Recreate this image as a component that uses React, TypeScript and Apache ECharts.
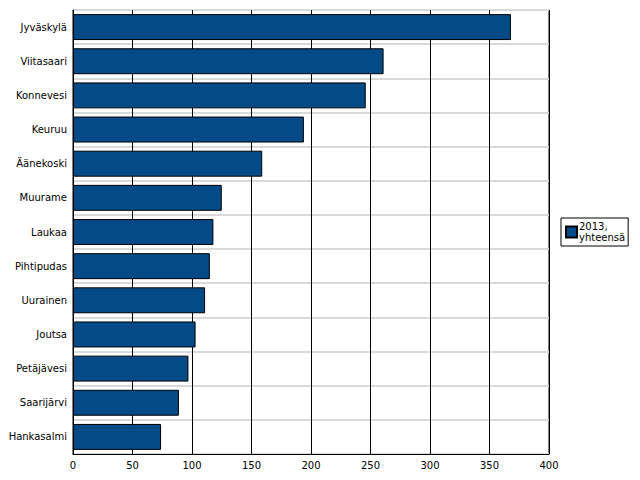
import React, { useEffect, useRef } from "react";
import * as echarts from "echarts";

const categories = [
  "Jyväskylä",
  "Viitasaari",
  "Konnevesi",
  "Keuruu",
  "Äänekoski",
  "Muurame",
  "Laukaa",
  "Pihtipudas",
  "Uurainen",
  "Joutsa",
  "Petäjävesi",
  "Saarijärvi",
  "Hankasalmi",
];
const values = [368, 261, 246, 194, 159, 125, 118, 115, 111, 103, 97, 89, 74];
const seriesName = "2013,\nyhteensä";

export default function App() {
  const ref = useRef<HTMLDivElement>(null);
  useEffect(() => {
    if (!ref.current) return;
    const chart = echarts.init(ref.current, null, { renderer: "svg" });
    const font = "DejaVu Sans";
    chart.setOption({
      animation: false,
      backgroundColor: "#fff",
      textStyle: { fontFamily: font },
      grid: {
        left: 73,
        top: 10,
        width: 476,
        height: 444,
        containLabel: false,
        show: true,
        borderColor: "#000",
        borderWidth: 1,
      },
      legend: {
        left: 561,
        top: 218,
        orient: "vertical",
        padding: [3, 3, 3, 4],
        borderColor: "#000",
        borderWidth: 1,
        borderRadius: 0,
        itemWidth: 11,
        itemHeight: 11,
        itemGap: 2,
        textStyle: { fontSize: 10, fontFamily: font, color: "#000", lineHeight: 11, padding: [0, 0, 0, -3] },
        data: [{ name: seriesName, icon: "rect" }],
      },
      xAxis: {
        type: "value",
        min: 0,
        max: 400,
        interval: 50,
        axisLine: { show: true, lineStyle: { color: "#000" } },
        axisTick: { show: false },
        axisLabel: { fontSize: 10, color: "#000", fontFamily: font, margin: 6 },
        splitLine: { show: true, lineStyle: { color: "#000", width: 1 } },
      },
      yAxis: {
        type: "category",
        data: categories,
        inverse: true,
        axisLine: { show: true, lineStyle: { color: "#000" } },
        axisTick: { show: false },
        axisLabel: { fontSize: 10, color: "#000", fontFamily: font, margin: 6 },
        splitLine: { show: true, lineStyle: { color: "#d9d9d9", width: 2 } },
      },
      series: [
        {
          name: seriesName,
          type: "bar",
          data: values,
          barCategoryGap: "24%",
          itemStyle: { color: "#044a87", borderColor: "#000", borderWidth: 1 },
        },
      ],
    });
    return () => chart.dispose();
  }, []);
  return <div ref={ref} style={{ width: 640, height: 480, margin: -8 }} />;
}
